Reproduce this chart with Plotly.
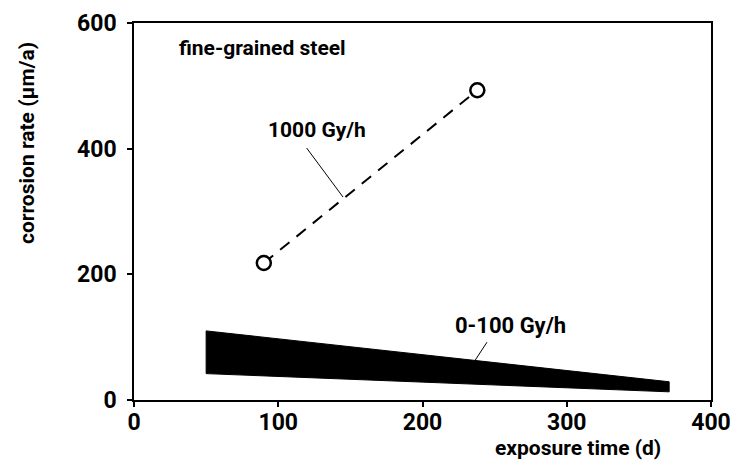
import plotly.graph_objects as go

# 1000 Gy/h measurements
dose_high_days = [90, 238]
dose_high_rate = [218, 493]

# 0-100 Gy/h scatter band (upper / lower envelope)
band_days = [50, 371]
band_upper = [110, 29]
band_lower = [42, 13]

x_ticks = [0, 100, 200, 300, 400]
y_ticks = [0, 200, 400, 600]

FONT = "Roboto, Liberation Sans, sans-serif"


def bfont(size):
    return dict(family=FONT, size=size, color="black", weight="bold")


fig = go.Figure()

# shaded band as a closed polygon
poly_x = band_days + band_days[::-1] + [band_days[0]]
poly_y = band_upper + band_lower[::-1] + [band_upper[0]]
fig.add_trace(go.Scatter(
    x=poly_x, y=poly_y, mode="lines", fill="toself",
    fillcolor="black", line=dict(color="black", width=1),
    hoverinfo="skip", showlegend=False,
))

# dashed connection with open (white-filled) circles on top
fig.add_trace(go.Scatter(
    x=dose_high_days, y=dose_high_rate, mode="lines+markers",
    line=dict(color="black", width=2, dash="12px,9px"),
    marker=dict(symbol="circle", size=14, color="white",
                line=dict(width=2.5, color="black")),
    showlegend=False,
))

# leader lines for the labels
fig.add_shape(type="line", x0=119.7, y0=401, x1=144.9, y1=323,
              line=dict(color="black", width=1))
fig.add_shape(type="line", x0=244.7, y0=92, x1=235, y1=58,
              line=dict(color="black", width=1))

labels = [
    dict(x=29.6, y=560, text="fine-grained steel", xanchor="left", size=21),
    dict(x=91.5, y=430, text="1000 Gy/h", xanchor="left", size=21),
    dict(x=260.7, y=119, text="0-100 Gy/h", xanchor="center", size=22),
]
for lab in labels:
    fig.add_annotation(x=lab["x"], y=lab["y"], text=lab["text"],
                       xanchor=lab["xanchor"], yanchor="middle",
                       showarrow=False, font=bfont(lab["size"]))

# axis titles
fig.add_annotation(xref="paper", yref="paper", x=(663 - 134) / 577,
                   y=-(448 - 400) / 377, xanchor="right", yanchor="middle",
                   showarrow=False, text="exposure time (d)", font=bfont(21))
fig.add_annotation(xref="paper", yref="paper", x=-(134 - 27) / 577,
                   y=(400 - 143) / 377, xanchor="center", yanchor="middle",
                   textangle=-90, showarrow=False,
                   text="corrosion rate (μm/a)", font=bfont(21))

axis_common = dict(
    showgrid=False, zeroline=False, showline=True, mirror=True,
    linecolor="black", linewidth=1.5, ticks="outside", ticklen=5,
    tickwidth=1.5, tickcolor="black", tickfont=bfont(23),
    ticklabeloverflow="allow", automargin=False,
)
fig.update_xaxes(range=[0, 400], tickvals=x_ticks, ticklabelstandoff=-4,
                 **axis_common)
fig.update_yaxes(range=[0, 600], tickvals=y_ticks, ticklabelstandoff=6,
                 **axis_common)

fig.update_layout(
    width=731, height=462,
    margin=dict(l=134, r=20, t=23, b=62),
    plot_bgcolor="white", paper_bgcolor="white",
    showlegend=False,
)

fig.write_html("out.html")
